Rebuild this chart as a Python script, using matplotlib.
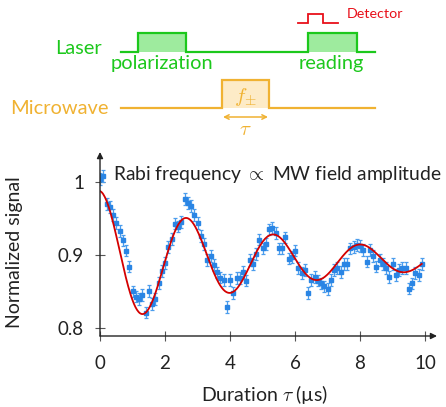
import numpy as np
import matplotlib
matplotlib.use("Agg")
import matplotlib.pyplot as plt
from matplotlib.patches import Rectangle

plt.rcParams['font.family'] = ['Lato', 'DejaVu Sans']
plt.rcParams['mathtext.fontset'] = 'cm'

# Rabi oscillation measurement: pulse duration (µs) and normalized fluorescence
tau_start_us = 0.0
tau_step_us = 0.1
signal = [
    1.004, 1.008, 0.970, 0.966, 0.955, 0.944, 0.933, 0.920, 0.906, 0.884,
    0.850, 0.843, 0.840, 0.845, 0.821, 0.851, 0.833, 0.840, 0.862, 0.878,
    0.889, 0.911, 0.922, 0.943, 0.939, 0.945, 0.977, 0.971, 0.967, 0.955,
    0.944, 0.926, 0.915, 0.893, 0.899, 0.886, 0.876, 0.869, 0.866, 0.829,
    0.866, 0.848, 0.868, 0.868, 0.877, 0.865, 0.893, 0.887, 0.901, 0.921,
    0.909, 0.915, 0.935, 0.937, 0.930, 0.909, 0.909, 0.924, 0.895, 0.897,
    0.906, 0.882, 0.875, 0.879, 0.848, 0.866, 0.870, 0.865, 0.861, 0.857,
    0.853, 0.866, 0.879, 0.882, 0.877, 0.888, 0.888, 0.909, 0.911, 0.914,
    0.912, 0.907, 0.891, 0.907, 0.899, 0.884, 0.893, 0.888, 0.882, 0.870,
    0.888, 0.873, 0.879, 0.882, 0.882, 0.854, 0.861, 0.875, 0.873, 0.888,
]
signal_err = 0.008

# damped-cosine fit parameters
fit_offset = 0.893
fit_amplitude = 0.0945
fit_decay_us = 5.4
fit_period_us = 2.68

x_ticks = [0, 2, 4, 6, 8, 10]
y_ticks = [0.8, 0.9, 1.0]
y_tick_labels = ['0.8', '0.9', '1']

tau = tau_start_us + tau_step_us * np.arange(len(signal))
tau_fit = np.linspace(0, tau[-1], 400)
signal_fit = fit_offset + fit_amplitude * np.exp(-tau_fit / fit_decay_us) * np.cos(2 * np.pi * tau_fit / fit_period_us)

W, H = 446, 407
fig = plt.figure(figsize=(W / 100, H / 100), dpi=100)

ink = '#222222'
green = '#1cc81c'
green_fill = '#9eeb9e'
orange = '#f0b232'
orange_fill = '#fdebc7'
red = '#e8101a'

# ---- measurement axes ----
x0, x1, ytop, ybot = 100, 437, 152, 336
ax = fig.add_axes([x0 / W, 1 - ybot / H, (x1 - x0) / W, (ybot - ytop) / H])
ax.set_xlim(0, (x1 - x0) / 32.5)
ax.set_ylim(0.789, 0.789 + (ybot - ytop) / 730)
for s in ax.spines.values():
    s.set_visible(False)
ax.patch.set_alpha(0)

ax.errorbar(tau, signal, yerr=signal_err, fmt='s', ms=3.0, color='#2a85e4',
            ecolor='#4b9ded', elinewidth=0.9, capsize=1.6, capthick=0.9, zorder=2)
ax.plot(tau_fit, signal_fit, color='#d40000', lw=1.3, zorder=3)

ax.set_xticks(x_ticks)
ax.set_xticklabels([str(v) for v in x_ticks])
ax.set_yticks(y_ticks)
ax.set_yticklabels(y_tick_labels)
ax.tick_params(axis='both', direction='inout', length=7, width=0.8, color='#555555',
               labelsize=13.5, labelcolor=ink)
ax.tick_params(axis='x', pad=10)
ax.tick_params(axis='y', pad=8)

arrow_kw = dict(arrowstyle='-|>', color=ink, lw=1.0, mutation_scale=9, shrinkA=0, shrinkB=0)
ax.annotate('', xy=(1, 0), xytext=(0, 0), xycoords='axes fraction', arrowprops=arrow_kw)
ax.annotate('', xy=(0, 1), xytext=(0, 0), xycoords='axes fraction', arrowprops=arrow_kw)

fig.text(113 / W, 1 - 175 / H, r'Rabi frequency $\propto$ MW field amplitude',
         ha='left', va='center', fontsize=13.9, color=ink)
fig.text(265 / W, 1 - 395 / H, r'Duration $\tau$ (µs)', ha='center', va='center',
         fontsize=14, color=ink)
fig.text(15 / W, 1 - 252 / H, 'Normalized signal', ha='center', va='center',
         rotation=90, fontsize=14, color=ink)

# ---- pulse sequence sketch (pixel coordinates) ----
ov = fig.add_axes([0, 0, 1, 1])
ov.set_xlim(0, W)
ov.set_ylim(H, 0)
ov.axis('off')

lb, lt = 51.7, 33.3
ov.add_patch(Rectangle((138, lt), 48, lb - lt, fc=green_fill, ec='none'))
ov.add_patch(Rectangle((308, lt), 49, lb - lt, fc=green_fill, ec='none'))
ov.plot([121, 138, 138, 186, 186, 308, 308, 357, 357, 375],
        [lb, lb, lt, lt, lb, lb, lt, lt, lb, lb], color=green, lw=1.6,
        solid_joinstyle='miter')
ov.text(102, 49, 'Laser', ha='right', va='center', fontsize=14.4, color=green)
ov.text(162, 63, 'polarization', ha='center', va='center', fontsize=14.4, color=green)
ov.text(331, 63, 'reading', ha='center', va='center', fontsize=14.4, color=green)

ov.plot([298, 308, 308, 323, 323, 338], [23.3, 23.3, 14, 14, 23.3, 23.3],
        color=red, lw=1.3, solid_joinstyle='miter')
ov.text(347, 14, 'Detector', ha='left', va='center', fontsize=10.3, color=red)

mb, mt = 108.3, 80
ov.add_patch(Rectangle((222, mt), 47, mb - mt, fc=orange_fill, ec='none'))
ov.plot([121, 222, 222, 269, 269, 375], [mb, mb, mt, mt, mb, mb], color=orange,
        lw=1.6, solid_joinstyle='miter')
ov.text(109, 108, 'Microwave', ha='right', va='center', fontsize=14.4, color=orange)
ov.text(245, 97, r'$f_{\pm}$', ha='center', va='center', fontsize=15, color=orange)
ov.annotate('', xy=(268, 117), xytext=(223, 117),
            arrowprops=dict(arrowstyle='<->', color=orange, lw=1.1, mutation_scale=8,
                            shrinkA=0, shrinkB=0))
ov.text(245, 129, r'$\tau$', ha='center', va='center', fontsize=15, color=orange)

fig.savefig('out.png', dpi=100)
